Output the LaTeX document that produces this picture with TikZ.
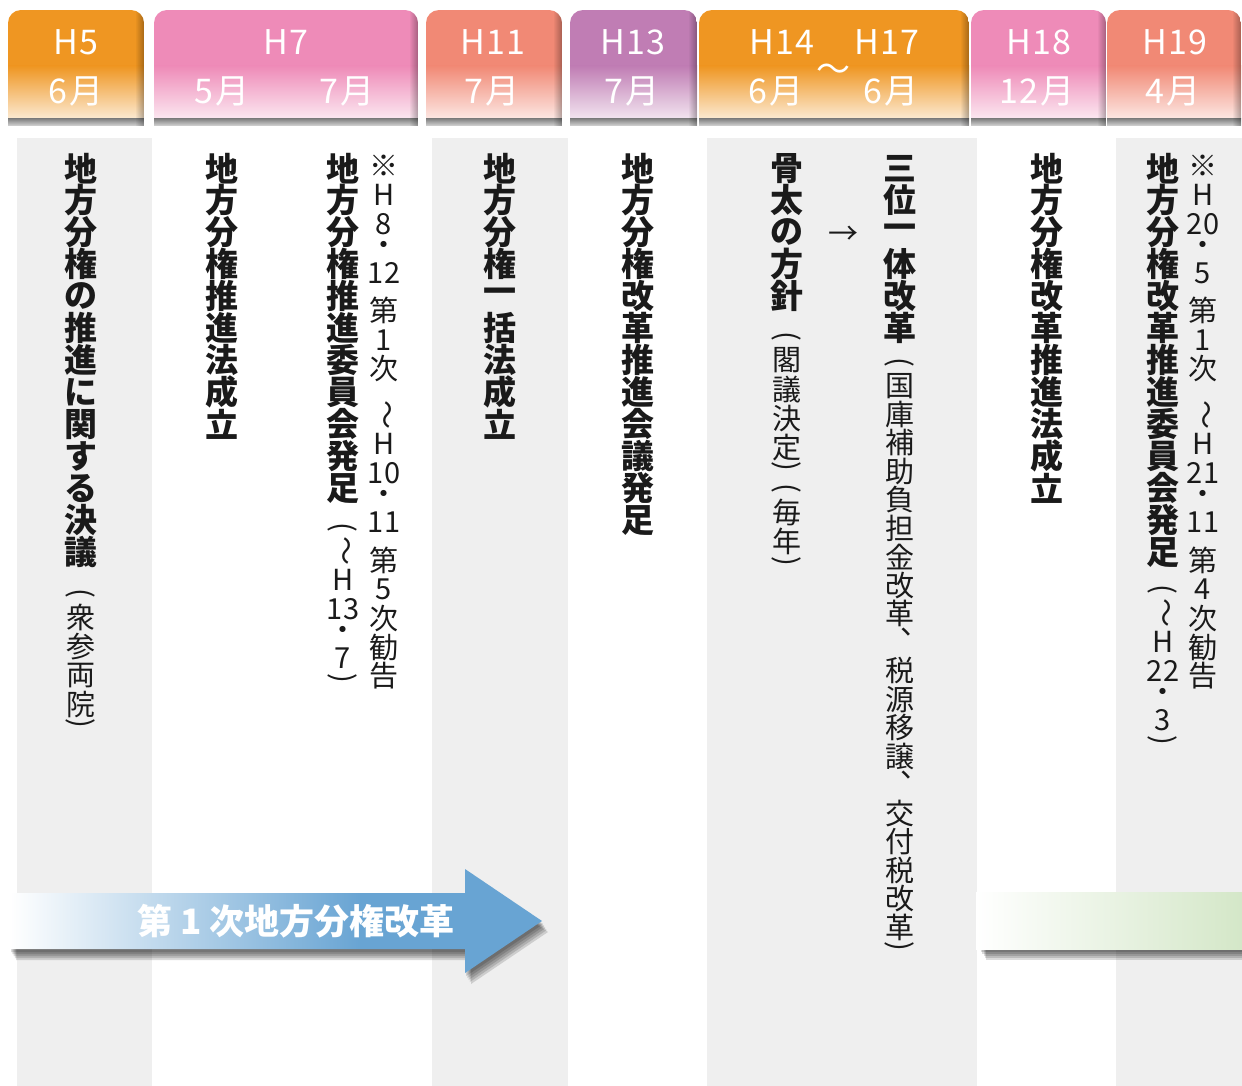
\documentclass[tikz,border=0pt]{standalone}
\usepackage{fontspec}
\setmainfont{Noto Sans CJK JP}
\usepackage{graphicx}
\usetikzlibrary{fadings}
\definecolor{cor}{RGB}{239,150,34}
\definecolor{cpk}{RGB}{238,139,184}
\definecolor{csa}{RGB}{241,137,117}
\definecolor{cpu}{RGB}{192,125,180}
\definecolor{cgray}{RGB}{239,239,239}
\definecolor{ablue}{RGB}{104,164,211}
\definecolor{agreen}{RGB}{212,231,200}
\definecolor{ink}{RGB}{26,26,26}
\pgfdeclarehorizontalshading{bluefade}{100bp}{color(0bp)=(white); color(25bp)=(white); color(58bp)=(ablue); color(100bp)=(ablue)}
\pgfdeclarehorizontalshading{greenfade}{100bp}{color(0bp)=(white); color(25bp)=(white); color(75bp)=(agreen); color(100bp)=(agreen)}

\newlength\vp
\newcommand\vcell[2][1]{\vbox to #1\vp{\vss\hbox to 1.6\vp{\hss#2\hss}\vss}}
\newcommand\vrot[1]{\rotatebox[origin=c]{-90}{#1}}
\newcommand\vgap[1]{\vskip #1\vp}
\newcommand\vob{\vcell[0.5]{\vrot{(}}}
\newcommand\vcb{\vcell[0.5]{\vrot{)}}}
\newcommand\vwv{\vcell{\vrot{～}}}
\newcommand\vdt{\vcell[0.7]{・}}
\newcommand\vtc{\vcell{\makebox[1em][l]{\kern0.5em\smash{\raisebox{0.25em}{、}}}}}

\ExplSyntaxOn
\NewDocumentCommand \vtext { m }
  {
    \vbox
      {
        \offinterlineskip
        \tl_map_inline:nn {#1}
          {
            \tl_if_single_token:nTF {##1}
              { \token_if_cs:NTF ##1 { ##1 } { \vcell {##1} } }
              { ##1 }
          }
      }
  }
\ExplSyntaxOff
\newcommand\vB[1]{\setlength\vp{32pt}\vtext{#1}}
\newcommand\vR[2][29pt]{\setlength\vp{#1}\vtext{#2}}

\newcommand\mytab[3]{%
  \begin{scope}
    \clip[rounded corners=13pt] (#1,10) rectangle (#2,150);
    \fill[#3] (#1,10) rectangle (#2,119);
    \shade[top color=#3, bottom color=#3!20!white] (#1,66) rectangle (#2,119);
    \shade[top color=black!48, bottom color=black!16] (#1,119) rectangle (#2,126);
    \fill[black,opacity=0.3,path fading=west] (#2-9,10) rectangle (#2,126);
  \end{scope}}
\newcommand\arrowshape[1]{\path[#1] (10,893) -- (465,893) -- (465,869) -- (542,921) -- (465,973) -- (465,949) -- (10,949) -- cycle;}

\begin{document}
\begin{tikzpicture}[x=1pt,y=-1pt,
  bt/.style={anchor=north, inner sep=0pt, text=ink, font=\fontsize{33}{33}\selectfont\bfseries},
  rt/.style={anchor=north, inner sep=0pt, text=ink, font=\fontsize{29}{29}\selectfont},
  hd/.style={inner sep=0pt, text=white, font=\fontsize{34}{34}\selectfont\addfontfeatures{LetterSpace=4}},
  arrowtext/.style={inner sep=0pt, text=white, font=\fontsize{35}{35}\selectfont\bfseries}]
\useasboundingbox (0,0) rectangle (1242,1086);
\fill[white] (0,0) rectangle (1242,1086);
% columns
\fill[cgray] (17,138) rectangle (152,1086);
\fill[cgray] (432,138) rectangle (568,1086);
\fill[cgray] (707,138) rectangle (977,1086);
\fill[cgray] (1116,138) rectangle (1242,1086);
% header tabs
\mytab{8}{144}{cor}
\mytab{154}{418}{cpk}
\mytab{426}{562}{csa}
\mytab{570}{697}{cpu}
\mytab{699}{969}{cor}
\mytab{971}{1106}{cpk}
\mytab{1107}{1241}{csa}
% header texts
\node[hd] (h5) at (76,42) {H5};
\node[hd] (h5m) at (76,91) {6月};
\node[hd] (h7) at (286,42) {H7};
\node[hd] (h7a) at (222,91) {5月};
\node[hd] (h7b) at (347,91) {7月};
\node[hd] (h11) at (493,42) {H11};
\node[hd] (h11m) at (492,91) {7月};
\node[hd] (h13) at (633,42) {H13};
\node[hd] (h13m) at (632,91) {7月};
\node[hd] (h14) at (782,42) {H14};
\node[hd] (h17) at (887,42) {H17};
\node[hd] (h14m) at (776,91) {6月};
\node[hd] (h17m) at (891,91) {6月};
\node[hd] (hwave) at (833,73) {～};
\node[hd] (h18) at (1039,42) {H18};
\node[hd] (h18m) at (1037,91) {12月};
\node[hd] (h19) at (1175,42) {H19};
\node[hd] (h19m) at (1173,91) {4月};
% column texts
\node[bt] (c1a) at (81,152) {\vB{地方分権の推進に関する決議}};
\node[rt] (c1b) at (81,588) {\vR{\vob 衆参両院\vcb}};
\node[bt] (c2a) at (222,152) {\vB{地方分権推進法成立}};
\node[bt] (c2b) at (343,152) {\vB{地方分権推進委員会発足}};
\node[rt] (c2c) at (343,522) {\vR{\vob\vwv H{\vcell{13}}\vdt 7\vcb}};
\node[rt] (c2d) at (384,151) {\vR{※H8\vdt{\vcell{12}}{\vgap{0.3}}第1次{\vgap{0.6}}\vwv H{\vcell{10}}\vdt{\vcell{11}}{\vgap{0.3}}第5次勧告}};
\node[bt] (c3) at (500,152) {\vB{地方分権一括法成立}};
\node[bt] (c4) at (638,152) {\vB{地方分権改革推進会議発足}};
\node[bt] (c5a) at (787,152) {\vB{骨太の方針}};
\node[rt] (c5b) at (787,331) {\vR{\vob 閣議決定\vcb{\vgap{0.25}}\vob 毎年\vcb}};
\node[inner sep=0pt, text=ink, font=\fontsize{30}{30}\selectfont] (c5arrow) at (843,235) {→};
\node[bt] (c5c) at (900,152) {\vB{三位一体改革}};
\node[rt] (c5d) at (900,357) {\vR[28.5pt]{\vob 国庫補助負担金改革\vtc 税源移譲\vtc 交付税改革\vcb}};
\node[bt] (c6) at (1047,152) {\vB{地方分権改革推進法成立}};
\node[bt] (c7a) at (1163,152) {\vB{地方分権改革推進委員会発足}};
\node[rt] (c7b) at (1163,584) {\vR{\vob\vwv H{\vcell{22}}\vdt 3\vcb}};
\node[rt] (c7c) at (1203,151) {\vR{※H{\vcell{20}}\vdt 5{\vgap{0.3}}第1次{\vgap{0.6}}\vwv H{\vcell{21}}\vdt{\vcell{11}}{\vgap{0.3}}第4次勧告}};
% blue arrow with shadow
\foreach \d in {2,4,6,8,10} {\arrowshape{fill=black, fill opacity=0.14, shift={(\d*0.6,\d+1)}}}
\arrowshape{shade, shading=bluefade}
\node[arrowtext] (arrtext) at (296,921) {第 1 次地方分権改革};
% green bar with shadow
\foreach \d in {2,4,6,8,10} {\fill[black, fill opacity=0.14, shift={(\d*0.6,\d+1)}] (980,892) rectangle (1250,949);}
\shade[shading=greenfade] (976,892) rectangle (1242,949);
\end{tikzpicture}
\end{document}
